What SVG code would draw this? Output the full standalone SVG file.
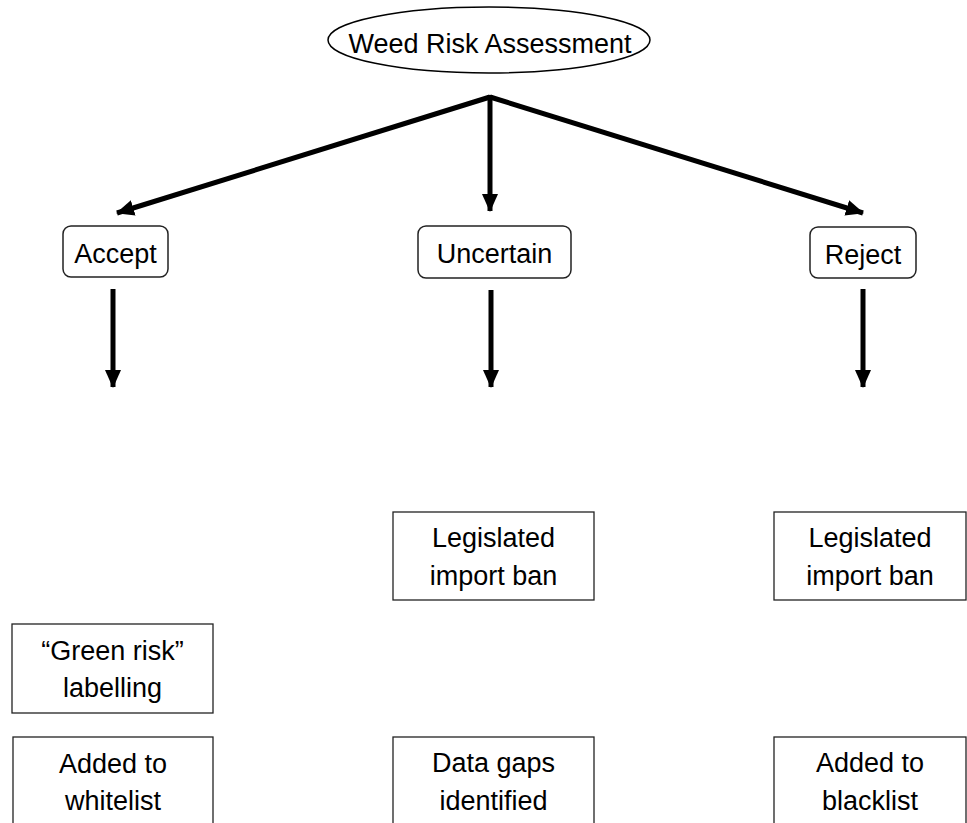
<svg xmlns="http://www.w3.org/2000/svg" width="967" height="823" viewBox="0 0 967 823">
<style>
  text { font-family: "Liberation Sans", Arial, sans-serif; font-size: 27px; fill: #000; text-anchor: middle; }
  .box { fill: #fff; stroke: #222; stroke-width: 1.3; }
  .rbox { fill: #fff; stroke: #222; stroke-width: 1.5; }
  .conn { stroke: #000; stroke-width: 5; fill: none; marker-end: url(#ah); }
</style>
<defs>
  <marker id="ah" markerUnits="userSpaceOnUse" markerWidth="18" markerHeight="18" viewBox="0 0 18 18" refX="17" refY="9" orient="auto">
    <path d="M0,1 L18,9 L0,17 Z" fill="#000"/>
  </marker>
</defs>
<g id="connectors">
  <line class="conn" x1="490" y1="97" x2="117" y2="213"/>
  <line class="conn" x1="490" y1="95" x2="490" y2="211"/>
  <line class="conn" x1="490" y1="97" x2="863" y2="213"/>
  <line class="conn" x1="113" y1="289" x2="113" y2="387"/>
  <line class="conn" x1="491" y1="290" x2="491" y2="387"/>
  <line class="conn" x1="863" y1="289" x2="863" y2="387"/>
</g>
<g id="wra">
  <ellipse cx="489" cy="40" rx="161" ry="33" fill="#fff" stroke="#000" stroke-width="1.5"/>
  <text x="490" y="53">Weed Risk Assessment</text>
</g>
<g id="accept">
  <rect class="rbox" x="63" y="226" width="105" height="51" rx="8"/>
  <text x="115.5" y="263">Accept</text>
</g>
<g id="uncertain">
  <rect class="rbox" x="418" y="226" width="153" height="52" rx="8"/>
  <text x="494.5" y="263">Uncertain</text>
</g>
<g id="reject">
  <rect class="rbox" x="810" y="227" width="106" height="51" rx="8"/>
  <text x="863" y="264">Reject</text>
</g>
<g id="ban-mid">
  <rect class="box" x="393" y="512" width="201" height="88"/>
  <text x="493.5" y="547">Legislated</text>
  <text x="493.5" y="585">import ban</text>
</g>
<g id="ban-right">
  <rect class="box" x="774" y="512" width="192" height="88"/>
  <text x="870" y="547">Legislated</text>
  <text x="870" y="585">import ban</text>
</g>
<g id="green">
  <rect class="box" x="12" y="624" width="201" height="89"/>
  <text x="112.5" y="660">“Green risk”</text>
  <text x="112.5" y="697">labelling</text>
</g>
<g id="whitelist">
  <rect class="box" x="13" y="737" width="200" height="90"/>
  <text x="113" y="773">Added to</text>
  <text x="113" y="810">whitelist</text>
</g>
<g id="datagaps">
  <rect class="box" x="393" y="737" width="201" height="90"/>
  <text x="493.5" y="772">Data gaps</text>
  <text x="493.5" y="810">identified</text>
</g>
<g id="blacklist">
  <rect class="box" x="774" y="737" width="192" height="90"/>
  <text x="870" y="772">Added to</text>
  <text x="870" y="810">blacklist</text>
</g>
</svg>
